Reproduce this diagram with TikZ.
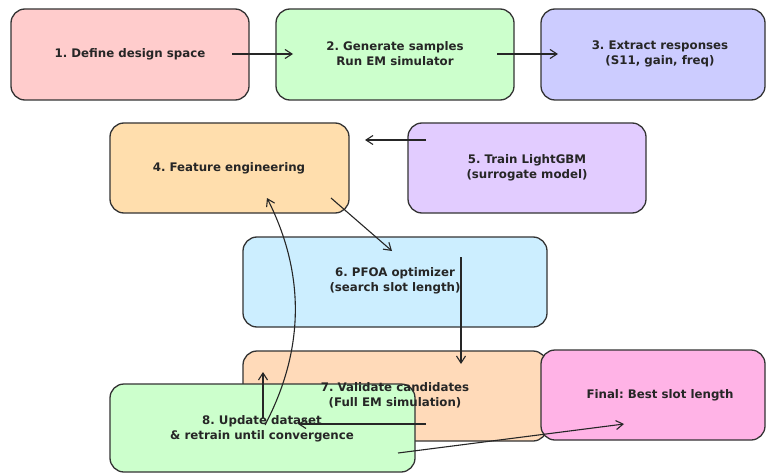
\documentclass[tikz,border=0pt]{standalone}
\usepackage{fontspec}
\setmainfont{DejaVu Sans}
\usetikzlibrary{calc,arrows.meta}
\frenchspacing

\definecolor{cDefine}{HTML}{FFCCCC}
\definecolor{cSample}{HTML}{CCFFCC}
\definecolor{cExtract}{HTML}{CCCCFF}
\definecolor{cFeature}{HTML}{FFDEAD}
\definecolor{cTrain}{HTML}{E2CCFF}
\definecolor{cPfoa}{HTML}{CCEEFF}
\definecolor{cValid}{HTML}{FFDAB9}
\definecolor{cUpdate}{HTML}{CCFFCC}
\definecolor{cFinal}{HTML}{FFB3E6}
\definecolor{cEdge}{HTML}{333333}
\definecolor{cText}{HTML}{262626}

\tikzset{
  stagebox/.style={draw=cEdge, line width=1.3pt, rounded corners=14pt,
    inner sep=0pt, outer sep=0pt},
  lbl/.style={text=cText, font=\fontsize{11.8}{15}\selectfont\bfseries,
    align=center, inner sep=0pt},
  flow/.style={draw=black!85, line width=1.1pt,
    -{Straight Barb[length=7pt,width=9pt,line width=1.1pt]}},
}

\begin{document}
\begin{tikzpicture}[x=1pt,y=-1pt]
\useasboundingbox (0,0) rectangle (767,473);

% stage boxes, drawn first so that all labels and arrows sit on top
\node[stagebox, fill=cDefine,  minimum width=238pt, minimum height=91pt] (b1) at (130,54.5) {};
\node[stagebox, fill=cSample,  minimum width=238pt, minimum height=91pt] (b2) at (395,54.5) {};
\node[stagebox, fill=cExtract, minimum width=224pt, minimum height=91pt] (b3) at (653,54.5) {};
\node[stagebox, fill=cFeature, minimum width=239pt, minimum height=90pt] (b4) at (229.5,168) {};
\node[stagebox, fill=cTrain,   minimum width=238pt, minimum height=90pt] (b5) at (527,168) {};
\node[stagebox, fill=cPfoa,    minimum width=304pt, minimum height=90pt] (b6) at (395,282) {};
\node[stagebox, fill=cValid,   minimum width=304pt, minimum height=90pt] (b7) at (395,396) {};
\node[stagebox, fill=cFinal,   minimum width=224pt, minimum height=90pt] (bF) at (653,395) {};
\node[stagebox, fill=cUpdate,  minimum width=305pt, minimum height=88pt] (b8) at (262.5,428) {};

% labels
\node[lbl] (t1) at (130,54)  {1. Define design space};
\node[lbl] (t2) at (395,54)  {2. Generate samples\\Run EM simulator};
\node[lbl] (t3) at (660,54)  {3. Extract responses\\(S11, gain, freq)};
\node[lbl] (t4) at (229,168) {4. Feature engineering};
\node[lbl] (t5) at (527,168) {5. Train LightGBM\\(surrogate model)};
\node[lbl] (t6) at (395,281) {6. PFOA optimizer\\(search slot length)};
\node[lbl] (t7) at (395,395) {7. Validate candidates\\(Full EM simulation)};
\node[lbl] (t8) at (262,429) {8. Update dataset\\\& retrain until convergence};
\node[lbl] (tF) at (660,395) {Final: Best slot length};

% connectors
\draw[flow] ($(t1)+(102,0)$) -- ($(t2)+(-102,0)$);
\draw[flow] ($(t2)+(102,0)$) -- ($(t3)+(-102,0)$);
\draw[flow] ($(t5)+(-101,-28)$) -- ($(t4)+(136,-28)$);
\draw[flow] ($(t4)+(102,30)$) -- ($(t6)+(-3,-30)$);
\draw[flow] ($(t6)+(66,-24)$) -- ($(t7)+(66,-31)$);
\draw[flow] ($(t7)+(31,29)$) -- ($(t8)+(36,-5)$);
\draw[flow] ($(t8)+(1,-11)$) -- ($(t7)+(-132,-23)$);
\draw[flow] ($(t8)+(3,-4)$) .. controls (305,349) and (305,273) .. ($(t4)+(38,30)$);
\draw[flow] ($(t8)+(136,24)$) -- ($(tF)+(-36,29)$);
\end{tikzpicture}
\end{document}
